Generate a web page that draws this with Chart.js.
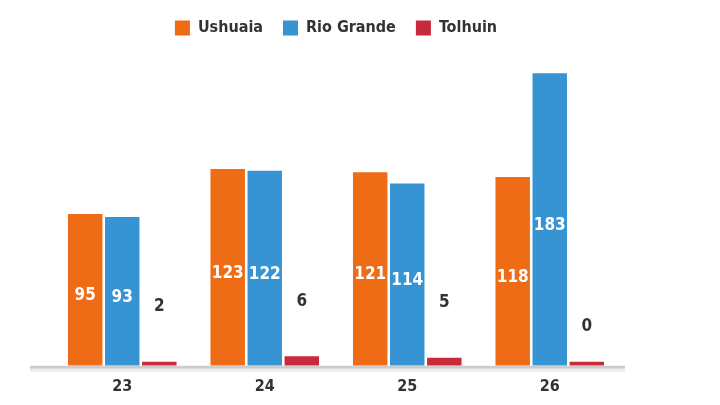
<!DOCTYPE html>
<html><head><meta charset="utf-8">
<script src="https://cdn.jsdelivr.net/npm/chart.js@4"></script>
<style>html,body{margin:0;background:#fff}#w{width:720px;height:405px}</style>
</head><body><div id="w"><canvas id="c"></canvas></div>
<script>
const categories = ['23','24','25','26'];
const ushuaia = [95,123,121,118];
const rioGrande = [93,122,114,183];
const tolhuin = [2,6,5,0];
const FONT = '"Liberation Sans Narrow","DejaVu Sans Condensed",sans-serif';
const labels = {
  id:'labels',
  afterDatasetsDraw(chart){
    const ctx=chart.ctx; ctx.save();
    ctx.font='bold 17px '+FONT; ctx.textAlign='center'; ctx.textBaseline='middle';
    chart.data.datasets.forEach((ds,di)=>{
      chart.getDatasetMeta(di).data.forEach((b,i)=>{
        const v=ds.data[i];
        if(di<2){ctx.fillStyle='#fff'; ctx.fillText(v,b.x,(b.y+b.base)/2+6);}
        else {ctx.fillStyle='#333'; ctx.fillText(v,b.x,b.y-(v?55:35));}
      });
    });
    const a=chart.chartArea;
    ctx.fillStyle='#ccc'; ctx.fillRect(30,a.bottom,595,3);
    ctx.fillStyle='#eee'; ctx.fillRect(30,a.bottom+3,595,3);
    ctx.restore();
  }
};
new Chart(document.getElementById('c'),{
  type:'bar',
  data:{labels:categories,datasets:[
    {label:'Ushuaia',data:ushuaia,backgroundColor:'#ef6c16'},
    {label:'Rio Grande',data:rioGrande,backgroundColor:'#3794d3'},
    {label:'Tolhuin',data:tolhuin,backgroundColor:'#c92a3b',minBarLength:4}
  ]},
  options:{responsive:true,maintainAspectRatio:false,animation:false,
    layout:{padding:{left:51,right:99,top:0,bottom:6}},
    datasets:{bar:{categoryPercentage:0.78,barPercentage:0.93}},
    plugins:{legend:{labels:{boxWidth:15,boxHeight:15,font:{family:FONT,size:16,weight:'bold'},color:'#333',padding:20}},tooltip:{enabled:false}},
    scales:{
      x:{grid:{display:false},border:{display:false},ticks:{color:'#333',font:{family:FONT,size:16,weight:'bold'}}},
      y:{display:false,min:0,max:200}
    }},
  plugins:[labels]
});
</script></body></html>
